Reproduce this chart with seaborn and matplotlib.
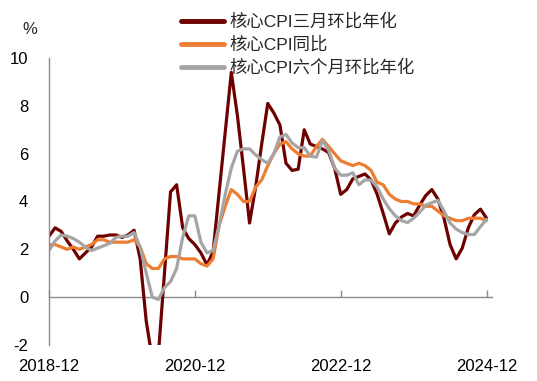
import numpy as np
import pandas as pd
import matplotlib
matplotlib.use("Agg")
import matplotlib.pyplot as plt
import seaborn as sns

# ---- data (monthly, 2018-12 .. 2024-12) ----
months = pd.period_range("2018-12", "2024-12", freq="M").strftime("%Y-%m").tolist()

core_3m_ann = [2.55, 2.9, 2.75, 2.35, 2.0, 1.6, 1.85, 2.1, 2.55, 2.55,
               2.6, 2.6, 2.5, 2.6, 2.8, 1.6, -1.0, -2.6, -2.4, 1.0,
               4.4, 4.7, 2.9, 2.45, 2.2, 1.85, 1.35, 1.9, 4.4, 6.9,
               9.4, 7.6, 5.4, 3.1, 4.6, 6.4, 8.1, 7.7, 7.2, 5.6,
               5.3, 5.35, 7.0, 6.4, 6.3, 6.2, 6.05, 5.4, 4.3, 4.5,
               4.95, 5.05, 5.15, 4.9, 4.3, 3.5, 2.65, 3.1, 3.35, 3.5,
               3.4, 3.85, 4.25, 4.5, 4.1, 3.3, 2.2, 1.6, 2.05, 2.9,
               3.45, 3.68, 3.3]

core_yoy = [2.2, 2.2, 2.1, 2.0, 2.1, 2.0, 2.1, 2.2, 2.4, 2.4,
            2.3, 2.3, 2.3, 2.3, 2.4, 2.1, 1.4, 1.2, 1.2, 1.6,
            1.7, 1.7, 1.6, 1.6, 1.6, 1.4, 1.3, 1.6, 3.0, 3.8,
            4.5, 4.3, 4.0, 4.0, 4.6, 4.9, 5.5, 6.0, 6.4, 6.5,
            6.2, 6.0, 5.9, 5.9, 6.3, 6.6, 6.3, 6.0, 5.7, 5.6,
            5.5, 5.6, 5.5, 5.3, 4.8, 4.7, 4.3, 4.1, 4.0, 4.0,
            3.9, 3.9, 3.8, 3.8, 3.6, 3.4, 3.3, 3.2, 3.2, 3.3,
            3.3, 3.3, 3.2]

core_6m_ann = [1.95, 2.35, 2.6, 2.55, 2.45, 2.3, 2.1, 1.95, 2.05, 2.15,
               2.25, 2.5, 2.55, 2.55, 2.7, 2.1, 1.0, 0.0, -0.1, 0.4,
               0.65, 1.2, 2.5, 3.4, 3.4, 2.3, 1.85, 1.95, 3.0, 4.3,
               5.4, 6.1, 6.2, 6.2, 5.95, 5.75, 5.6, 6.0, 6.7, 6.8,
               6.45, 6.25, 6.25, 5.9, 5.85, 6.55, 6.15, 5.4, 5.1, 5.1,
               5.2, 4.7, 4.9, 4.9, 4.6, 4.1, 3.7, 3.4, 3.2, 3.12,
               3.3, 3.55, 3.85, 3.95, 4.05, 3.6, 3.1, 2.85, 2.7, 2.62,
               2.62, 2.95, 3.25]

series_names = ["核心CPI三月环比年化", "核心CPI同比", "核心CPI六个月环比年化"]
tick_labels = ["2018-12", "2020-12", "2022-12", "2024-12"]
y_ticks = [-2, 0, 2, 4, 6, 8, 10]

colors = ["#6E0000", "#ED7D31", "#A5A5A5"]

df = pd.DataFrame({
    "month": months,
    "idx": np.arange(len(months)),
    series_names[0]: core_3m_ann,
    series_names[1]: core_yoy,
    series_names[2]: core_6m_ann,
})

sns.set_style("white")
plt.rcParams["font.family"] = ["Liberation Sans", "Noto Sans CJK SC"]

fig = plt.figure(figsize=(5.37, 3.81), dpi=100)
ax = fig.add_axes([49 / 537, 1 - 345 / 381, (492 - 49) / 537, 287 / 381])

for name, col in zip(series_names, colors):
    sns.lineplot(data=df, x="idx", y=name, ax=ax, color=col, linewidth=2.3,
                 label=name, legend=False)

ax.set_xlim(0, 72.9)
ax.set_ylim(-2, 10)
ax.set_xlabel("")
ax.set_ylabel("")

# spines
for s in ["top", "right", "bottom"]:
    ax.spines[s].set_visible(False)
ax.spines["left"].set_color("#8C8C8C")
ax.spines["left"].set_linewidth(1.0)

ax.set_yticks(y_ticks)
ax.set_yticklabels([str(v) for v in y_ticks])
ax.tick_params(axis="y", direction="in", length=4, width=1.0, color="#8C8C8C",
               pad=15, labelsize=12, labelcolor="black")

tick_pos = [months.index(t) for t in tick_labels]
ax.set_xticks(tick_pos)
ax.set_xticklabels(tick_labels)
ax.tick_params(axis="x", length=0, pad=10, labelsize=12, labelcolor="black")

# zero axis with inward ticks
sec = ax.secondary_xaxis(2 / 12)
sec.set_xticks(tick_pos)
sec.set_xticklabels([])
sec.tick_params(axis="x", direction="in", length=5, width=1.0, color="#8C8C8C")
sec.spines["bottom"].set_color("#8C8C8C")
sec.spines["bottom"].set_linewidth(1.0)
sec.spines["top"].set_visible(False)

fig.text(30 / 537, 1 - 30 / 381, "%", ha="center", va="center", fontsize=12)

handles, labels = ax.get_legend_handles_labels()
leg = fig.legend(handles, labels, loc="upper left",
                 bbox_to_anchor=(181 / 537, 1 - 13 / 381),
                 frameon=False, fontsize=12.5, handlelength=2.5,
                 handletextpad=0.3, labelspacing=0.38, borderpad=0,
                 borderaxespad=0)
for lh in leg.get_lines():
    lh.set_linewidth(3.5)

fig.savefig("out.png", dpi=100)
